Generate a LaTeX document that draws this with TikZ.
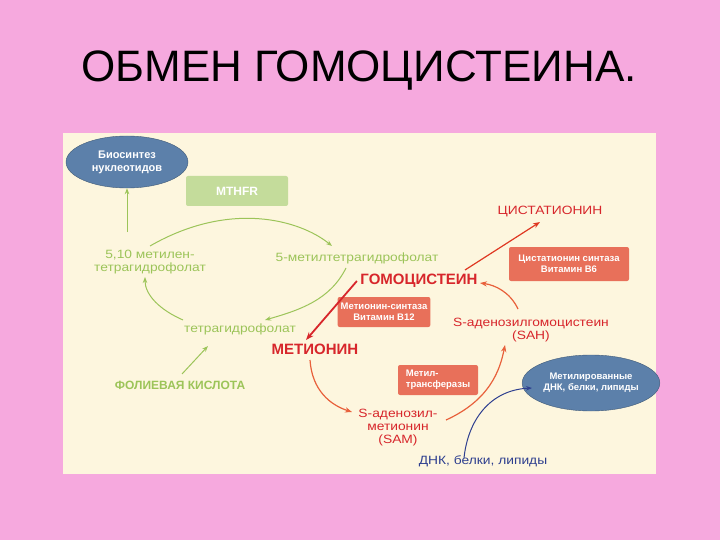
\documentclass[tikz,border=0pt]{standalone}
\usepackage{fontspec}
\setmainfont{Liberation Sans}
\newfontfamily\widef[FakeStretch=1.15]{Liberation Sans}
\usetikzlibrary{arrows.meta,shapes.geometric}
\definecolor{bg}{HTML}{F6A9DE}
\definecolor{panel}{HTML}{FDF6DE}
\definecolor{gr}{HTML}{9CC459}
\definecolor{rd}{HTML}{D7262B}
\definecolor{org}{HTML}{E8613C}
\definecolor{boxr}{HTML}{E8705A}
\definecolor{bl}{HTML}{5C80AA}
\definecolor{dbl}{HTML}{2E3F8F}
\begin{document}
\begin{tikzpicture}[x=1pt,y=-1pt,
  gtxt/.style={text=gr,font=\widef\fontsize{12}{13}\selectfont,align=center},
  rtxt/.style={text=rd,font=\widef\fontsize{12}{13}\selectfont,align=center},
  rbox/.style={fill=boxr,rounded corners=2pt,text=white,font=\bfseries\fontsize{9.5}{11}\selectfont,align=center,inner sep=3pt},
  bell/.style={ellipse,fill=bl,draw=bl!70!black,text=white,font=\bfseries\fontsize{11}{13}\selectfont,align=center,inner sep=1pt},
  garr/.style={draw=gr,line width=1pt,-{Stealth[length=6pt]}},
  rarr/.style={draw=org,line width=1.2pt,-{Stealth[length=7pt]}}]
\fill[bg] (0,0) rectangle (720,540);
\useasboundingbox (0,0) rectangle (720,540);
\fill[panel] (63,133) rectangle (656,474);
\node (title) at (359,71) {\fontsize{44}{48}\selectfont ОБМЕН ГОМОЦИСТЕИНА.};
\node[bell,minimum width=122,minimum height=52] (bio) at (127,162) {Биосинтез\\нуклеотидов};
\node[fill=gr!60,rounded corners=2pt,text=white,font=\bfseries\fontsize{12}{13}\selectfont,minimum width=102,minimum height=30] (mthfr) at (237,191) {MTHFR};
\node[gtxt] (m510) at (150,262) {5,10 метилен-\\тетрагидрофолат};
\node[gtxt] (m5) at (357,258) {5-метилтетрагидрофолат};
\node[rtxt,font=\bfseries\fontsize{15}{17}\selectfont] (hcy) at (419,281) {ГОМОЦИСТЕИН};
\node[rtxt] (cys) at (550,212) {ЦИСТАТИОНИН};
\node[rbox,minimum width=120,minimum height=34] (cbs) at (569,264) {Цистатионин синтаза\\Витамин B6};
\node[rbox,minimum width=92,minimum height=30] (ms) at (384,312) {Метионин-синтаза\\Витамин B12};
\node[rtxt] (sah) at (531,330) {S-аденозилгомоцистеин\\(SAH)};
\node[gtxt] (thf) at (240,329) {тетрагидрофолат};
\node[rtxt,font=\bfseries\fontsize{15}{17}\selectfont] (met) at (315,349) {МЕТИОНИН};
\node[gtxt,font=\bfseries\fontsize{12}{13}\selectfont] (fol) at (180,385) {ФОЛИЕВАЯ КИСЛОТА};
\node[rbox,align=left,minimum width=80,minimum height=30] (mt) at (438,380) {Метил-\\трансферазы};
\node[bell,minimum width=118,minimum height=56,font=\bfseries\fontsize{9.5}{11}\selectfont] (mdna) at (591,383) {Метилированные\\ДНК, белки, липиды};
\node[rtxt] (sam) at (398,428) {S-аденозил-\\метионин\\(SAM)};
\node[text=dbl,font=\widef\fontsize{12}{13}\selectfont] (dna) at (483,461) {ДНК, белки, липиды};
% green arrows
\draw[garr] (127,232) -- (bio.south);
\draw[garr] (150,246) .. controls (230,200) and (300,220) .. (332,246);
\draw[garr] (346,268) .. controls (330,300) and (300,310) .. (265,320);
\draw[garr] (183,320) .. controls (160,310) and (145,295) .. (145,277);
\draw[garr] (182,374) -- (208,346);
% red arrows
\draw[draw=rd,line width=1.8pt,-{Stealth[length=8pt]}] (hcy.west) -- (306,340);
\draw[rarr,draw=rd!80!orange] (465,270) -- (540,222);
\draw[rarr] (518,309) .. controls (510,292) and (495,285) .. (480,283);
\draw[rarr] (310,360) .. controls (312,390) and (330,405) .. (352,412);
\draw[rarr] (446,420) .. controls (490,400) and (500,370) .. (505,345);
\draw[draw=dbl,line width=1pt,-{Stealth[length=6pt]}] (464,458) .. controls (468,420) and (490,390) .. (532,388);
\end{tikzpicture}
\end{document}
